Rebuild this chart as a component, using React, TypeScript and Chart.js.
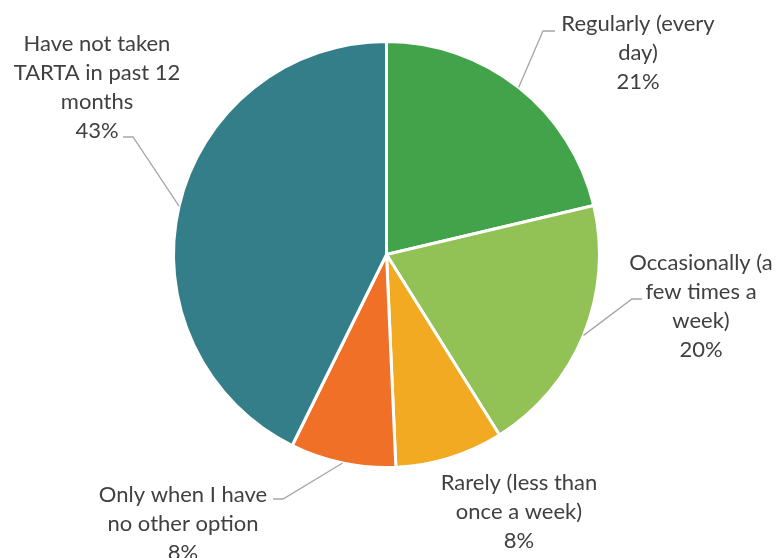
import React, { useEffect, useRef } from "react";
import { Chart, registerables } from "chart.js";

Chart.register(...registerables);

const categories: string[][] = [
  ["Regularly (every", "day)"],
  ["Occasionally (a", "few times a", "week)"],
  ["Rarely (less than", "once a week)"],
  ["Only when I have", "no other option"],
  ["Have not taken", "TARTA in past 12", "months"],
];
const values: number[] = [21.3, 19.8, 8.2, 8.0, 42.7];
const colors: string[] = ["#43A34A", "#92C156", "#F2AA22", "#F07028", "#347E8A"];

// label block layout: text centre x, first-line centre y, optional leader elbow and end
const labelLayout = [
  { cx: 638, y0: 24, elbow: [543, 31], end: [555, 31] },
  { cx: 701, y0: 263, elbow: [632, 299], end: [642, 299] },
  { cx: 519, y0: 483, elbow: null, end: null },
  { cx: 183, y0: 495, elbow: [283, 499], end: [273, 499] },
  { cx: 97, y0: 44, elbow: [133, 137], end: [123, 137] },
];

const FONT = "Lato, 'Open Sans', sans-serif";
const LINE_H = 29;

const labelPlugin = {
  id: "outerLabels",
  afterDraw(chart: any) {
    const ctx = chart.ctx;
    const meta = chart.getDatasetMeta(0);
    const data = chart.data.datasets[0].data as number[];
    const total = data.reduce((a, b) => a + b, 0);
    ctx.save();
    meta.data.forEach((arc: any, i: number) => {
      const L = labelLayout[i];
      if (L.elbow && L.end) {
        const mid = (arc.startAngle + arc.endAngle) / 2;
        const sx = arc.x + Math.cos(mid) * arc.outerRadius;
        const sy = arc.y + Math.sin(mid) * arc.outerRadius;
        ctx.strokeStyle = "#A6A6A6";
        ctx.lineWidth = 1.3;
        ctx.beginPath();
        ctx.moveTo(sx, sy);
        ctx.lineTo(L.elbow[0], L.elbow[1]);
        ctx.lineTo(L.end[0], L.end[1]);
        ctx.stroke();
      }
      const lines = [...categories[i], Math.round((data[i] / total) * 100) + "%"];
      ctx.fillStyle = "#404040";
      ctx.font = `22px ${FONT}`;
      ctx.textAlign = "center";
      ctx.textBaseline = "middle";
      lines.forEach((t, k) => ctx.fillText(t, L.cx, L.y0 + k * LINE_H));
    });
    ctx.restore();
  },
};

export default function App() {
  const ref = useRef<HTMLCanvasElement>(null);
  useEffect(() => {
    document.body.style.margin = "0";
    const chart = new Chart(ref.current!, {
      type: "pie",
      data: {
        labels: categories.map((c) => c.join(" ")),
        datasets: [
          {
            data: values,
            backgroundColor: colors,
            borderColor: "#FFFFFF",
            borderWidth: 3,
          },
        ],
      },
      options: {
        responsive: false,
        animation: false,
        layout: { padding: { left: 172, right: 177, top: 40, bottom: 89 } },
        plugins: { legend: { display: false }, tooltip: { enabled: false } },
      },
      plugins: [labelPlugin],
    });
    return () => chart.destroy();
  }, []);
  return (
    <div style={{ width: 778, height: 558, background: "#fff" }}>
      <canvas ref={ref} width={778} height={558} style={{ display: "block" }} />
    </div>
  );
}
